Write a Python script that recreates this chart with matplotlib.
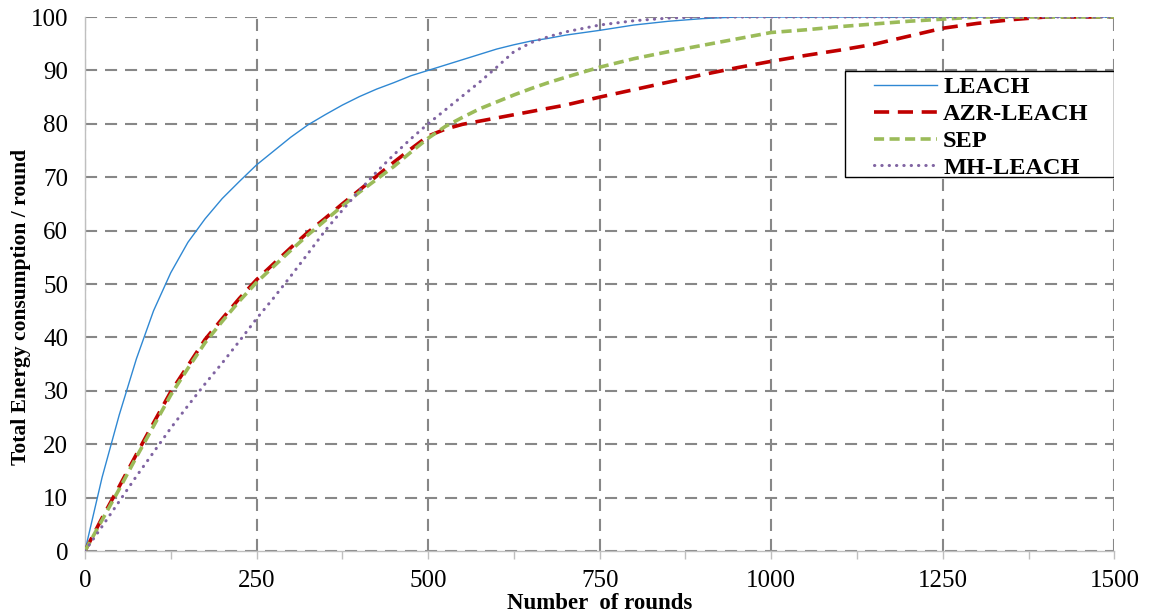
import matplotlib
matplotlib.use("Agg")
import matplotlib.pyplot as plt
from matplotlib.patches import Rectangle
from matplotlib.ticker import MultipleLocator

# rounds sampled along the x axis
rounds = [0, 25, 50, 75, 100, 125, 150, 175, 200, 225, 250, 275, 300, 325, 350,
          375, 400, 425, 450, 475, 500, 525, 550, 575, 600, 625, 650, 675, 700,
          750, 800, 850, 900, 950, 1000, 1050, 1100, 1150, 1200, 1250, 1300, 1350,
          1400, 1450, 1500]

leach = [0, 13.8, 25.5, 36, 45, 52.1, 57.8, 62.2, 66, 69.2, 72.3, 74.9, 77.5, 79.8,
         81.7, 83.5, 85.1, 86.5, 87.7, 89, 90, 91, 92, 93, 94, 94.8, 95.5, 96, 96.6,
         97.5, 98.5, 99.2, 99.7, 100, 100, 100, 100, 100, 100, 100, 100, 100, 100,
         100, 100]
azr_leach = [0, 6.2, 12.1, 18.1, 24, 29.8, 34.7, 39.6, 43.5, 47.3, 50.8, 53.8, 56.8,
             59.7, 62.3, 65, 67.6, 70.2, 72.8, 75.3, 77.7, 79, 79.9, 80.5, 81.1, 81.7,
             82.3, 82.9, 83.5, 85, 86.4, 87.8, 89.2, 90.5, 91.7, 92.8, 93.8, 94.9,
             96.4, 97.9, 98.8, 99.5, 100, 100, 100]
sep = [0, 5.8, 11.6, 17.6, 23.4, 29.2, 34.2, 39, 43, 46.8, 50.3, 53.3, 56.3, 59.2,
       61.9, 64.6, 67.2, 69.6, 72, 74.7, 77.3, 79.5, 81.2, 82.8, 84.1, 85.4, 86.6,
       87.7, 88.7, 90.6, 92.2, 93.5, 94.7, 95.9, 97.1, 97.6, 98.2, 98.7, 99.2, 99.6,
       100, 100, 100, 100, 100]
mh_leach = [0, 4.6, 9.3, 14, 18.5, 23, 27.2, 31.3, 35.2, 39.3, 43.5, 47.4, 51.5,
            55.7, 60, 63.8, 67.5, 71, 74.2, 77.2, 80, 82.6, 85.2, 87.8, 90.6, 93.5,
            95.2, 96.3, 97.2, 98.5, 99.3, 99.8, 100, 100, 100, 100, 100, 100, 100,
            100, 100, 100, 100, 100, 100]

plt.rcParams['font.family'] = ['Liberation Serif', 'DejaVu Serif']

fig = plt.figure(figsize=(11.51, 6.16), dpi=100)
ax = fig.add_axes([0.0738, 0.1055, 0.8944, 0.8669])

ax.plot(rounds, leach, color='#2F88D3', lw=1.0, label='LEACH', zorder=3)
ax.plot(rounds, azr_leach, color='#C00000', lw=2.6, linestyle=(0, (4.2, 2.4)),
        label='AZR-LEACH', zorder=3)
ax.plot(rounds, sep, color='#9BBB59', lw=2.6, linestyle=(0, (2.8, 1.5)),
        label='SEP', zorder=3)
ax.plot(rounds, mh_leach, color='#8064A2', lw=2.2, linestyle=(0, (0.1, 2.3)),
        dash_capstyle='round', label='MH-LEACH', zorder=3)

ax.set_xlim(0, 1500)
ax.set_ylim(0, 100)
ax.xaxis.set_major_locator(MultipleLocator(250))
ax.xaxis.set_minor_locator(MultipleLocator(125))
ax.yaxis.set_major_locator(MultipleLocator(10))

ax.grid(True, which='major', color='#878787', lw=1.5, linestyle=(0, (5.8, 3.8)))
ax.set_axisbelow(True)

for side in ['top', 'right']:
    ax.spines[side].set_visible(False)
for side in ['left', 'bottom']:
    ax.spines[side].set_color('#BFBFBF')
    ax.spines[side].set_linewidth(1.0)

ax.tick_params(axis='x', which='both', direction='out', length=6, width=1,
               color='#BFBFBF', labelsize=18, pad=8)
ax.tick_params(axis='y', which='both', length=0, labelsize=18, pad=12)

ax.set_xlabel('Number  of rounds', fontsize=16.5, fontweight='bold', va='top')
ax.xaxis.set_label_coords(0.5, -0.078)
ax.set_ylabel('Total Energy consumption / round', fontsize=15.5, fontweight='bold')
ax.yaxis.set_label_coords(-0.052, 0.457)

# legend box is wider than its contents, so draw the frame separately
box = Rectangle((0.7386, 0.7004), 0.2614, 0.1985, transform=ax.transAxes,
                facecolor='white', edgecolor='black', lw=1.0, zorder=4)
ax.add_patch(box)

leg = ax.legend(loc='upper right', bbox_to_anchor=(0.975, 0.889), frameon=False,
                prop={'size': 17.5, 'weight': 'bold'}, handlelength=2.6,
                labelspacing=0.2, borderpad=0, handletextpad=0.25,
                borderaxespad=0)
leg.set_zorder(5)

fig.savefig('out.png', dpi=100)
